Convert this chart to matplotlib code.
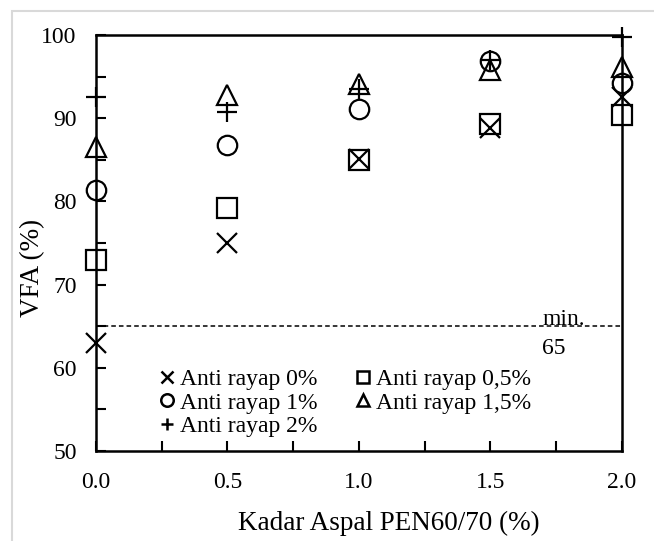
import matplotlib.pyplot as plt
from matplotlib.lines import Line2D
from matplotlib.patches import Rectangle
from matplotlib.ticker import MultipleLocator

plt.rcParams['font.family'] = ['Liberation Serif', 'DejaVu Serif']

# data
kadar_aspal = [0.0, 0.5, 1.0, 1.5, 2.0]
vfa_0 = [63.0, 75.0, 85.1, 88.8, 92.5]
vfa_05 = [73.0, 79.2, 85.0, 89.3, 90.4]
vfa_1 = [81.4, 86.8, 91.1, 96.9, 94.2]
vfa_15 = [86.5, 92.8, 94.1, 95.8, 96.1]
vfa_2 = [92.6, 90.7, 93.5, 97.0, 99.7]
min_vfa = 65

series = [
    ("Anti rayap 0%", vfa_0, 'x'),
    ("Anti rayap 0,5%", vfa_05, 's'),
    ("Anti rayap 1%", vfa_1, 'o'),
    ("Anti rayap 1,5%", vfa_15, '^'),
    ("Anti rayap 2%", vfa_2, '+'),
]

fig = plt.figure(figsize=(6.54, 5.41), dpi=100)
ax = fig.add_axes([0.1468, 0.1664, 0.8042, 0.7689])

# light grey frame around the chart
fig.patches.append(Rectangle((12 / 654, -0.05), 1.1, 1 - 11 / 541 + 0.05,
                             transform=fig.transFigure, fill=False,
                             edgecolor='#d9d9d9', linewidth=1.5))

handles = {}
for label, vals, m in series:
    ms = 15 if m in ('x', '+') else 14
    h, = ax.plot(kadar_aspal, vals, linestyle='none', marker=m, markersize=ms,
                 markerfacecolor='none', markeredgecolor='black',
                 markeredgewidth=1.6, clip_on=False, zorder=3)
    handles[label] = h

ax.axhline(min_vfa, color='black', linestyle=(0, (3, 2)), linewidth=1.1)
ax.text(1.696, min_vfa + 0.15, "min.", fontsize=17, va='baseline', ha='left')
ax.text(1.696, min_vfa - 1.4, "65", fontsize=17, va='top', ha='left')

ax.set_xlim(0, 2.0)
ax.set_ylim(50, 100)
ax.xaxis.set_major_locator(MultipleLocator(0.5))
ax.xaxis.set_minor_locator(MultipleLocator(0.25))
ax.yaxis.set_major_locator(MultipleLocator(10))
ax.yaxis.set_minor_locator(MultipleLocator(5))
ax.xaxis.set_major_formatter(plt.FormatStrFormatter('%.1f'))
ax.tick_params(which='both', direction='in', length=7, width=1.5,
               labelsize=17, top=False, right=False)
ax.tick_params(axis='x', pad=15)
ax.tick_params(axis='y', pad=14)
for s in ax.spines.values():
    s.set_linewidth(1.8)

ax.set_xlabel("Kadar Aspal PEN60/70 (%)", fontsize=19.5, va='center')
ax.set_ylabel("VFA (%)", fontsize=19.5, va='center')
ax.xaxis.set_label_coords(0.557, -0.173)
ax.yaxis.set_label_coords(-0.12, 0.44)

order = ["Anti rayap 0%", "Anti rayap 1%", "Anti rayap 2%",
         "Anti rayap 0,5%", "Anti rayap 1,5%"]
leg_handles = []
for lab in order:
    h = handles[lab]
    leg_handles.append(Line2D([], [], linestyle='none', marker=h.get_marker(),
                              markersize=9, markerfacecolor='none',
                              markeredgecolor='black', markeredgewidth=1.8))
ax.legend(leg_handles, order, ncol=2, loc='upper left',
          bbox_to_anchor=(0.122, 0.198), frameon=False, fontsize=17,
          handlelength=0.6, handletextpad=0.25, labelspacing=0.08,
          columnspacing=1.62, borderpad=0, borderaxespad=0)

fig.savefig("out.png", dpi=100)
